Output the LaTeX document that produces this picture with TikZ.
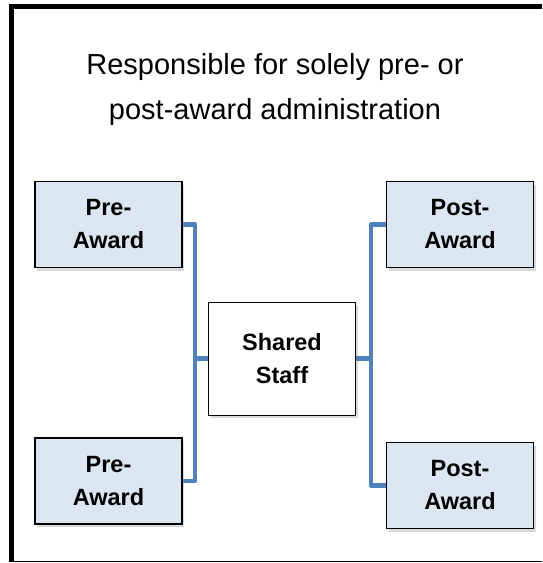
\documentclass[tikz,border=0pt]{standalone}
\usepackage{fontspec}
\setmainfont{Liberation Sans}
\usetikzlibrary{shadows}
\definecolor{linkblue}{HTML}{4F81BD}
\definecolor{unitfill}{HTML}{DCE6F2}

\begin{document}
\begin{tikzpicture}[x=1pt,y=-1pt,
    unitbox/.style={rectangle,draw=black,line width=1.5pt,fill=unitfill,
      minimum width=147pt,minimum height=86pt,align=center,
      font=\fontsize{23.5}{33}\selectfont\bfseries,
      drop shadow={opacity=0.3,shadow xshift=2pt,shadow yshift=-3pt}},
    sharedbox/.style={unitbox,fill=white,line width=1pt,minimum height=113pt},
    link/.style={draw=linkblue,line width=4.5pt,line join=round}]
\useasboundingbox (0,0) rectangle (542,563);

% frame, cut off at the right
\coordinate (frameTR) at (542,6.3);
\coordinate (frameTL) at (11.5,6.3);
\coordinate (frameBL) at (11.5,561.5);
\coordinate (frameBR) at (542,561.5);
\draw[line width=5.5pt] (frameTR) -- (frameTL);
\draw[line width=5pt] (11.5,4) -- (frameBL);
\draw[line width=1.5pt] (9,561.5) -- (frameBR);

% heading
\node[align=center,font=\fontsize{29}{45}\selectfont] (heading) at (275,89)
  {Responsible for solely pre- or\\post-award administration};

% the units
\node[unitbox] (preA)   at (108.5,224.5) {Pre-\\Award};
\node[unitbox] (preB)   at (108.5,481)   {Pre-\\Award};
\node[unitbox] (postA)  at (460,224.5)   {Post-\\Award};
\node[unitbox] (postB)  at (460,485.5)   {Post-\\Award};
\node[sharedbox] (shared) at (282,358.5) {Shared\\Staff};

% spines
\coordinate (leftspine)  at (195,358.5);
\coordinate (rightspine) at (371,358.5);

\draw[link] (preA.east) -| (leftspine) |- (preB.east);
\draw[link] (leftspine) -- (shared.west);
\draw[link] (postA.west) -| (rightspine) |- (postB.west);
\draw[link] (rightspine) -- (shared.east);
\end{tikzpicture}
\end{document}
